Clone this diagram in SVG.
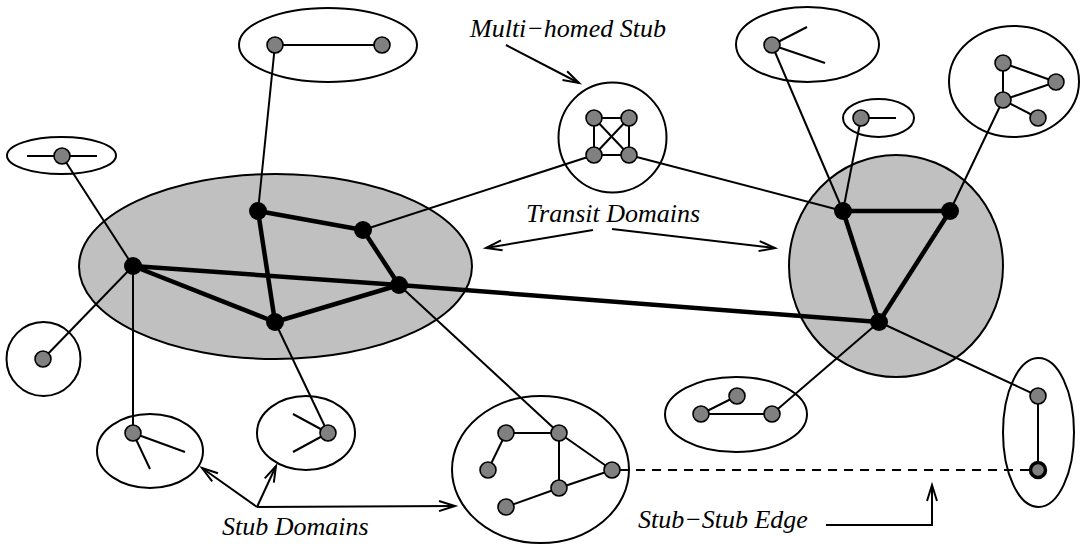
<svg xmlns="http://www.w3.org/2000/svg" width="1083" height="545" viewBox="0 0 1083 545">
<style>
.dom{fill:none;stroke:#000;stroke-width:2}
.tdom{fill:#c0c0c0;stroke:#000;stroke-width:2}
.e{stroke:#000;stroke-width:2;fill:none}
.t{stroke:#000;stroke-width:4.5;fill:none}
.d{stroke:#000;stroke-width:2;stroke-dasharray:9,7;fill:none}
.a{stroke:#000;stroke-width:2;fill:none;marker-end:url(#ah)}
.s{fill:#808080;stroke:#000;stroke-width:1.6}
.sb{fill:#808080;stroke:#000;stroke-width:3.5}
.r{fill:#000}
text{font-family:"Liberation Serif","Times New Roman",serif;font-style:italic;font-size:26px;fill:#000}
</style>
<defs>
<marker id="ah" markerUnits="userSpaceOnUse" markerWidth="20" markerHeight="14" viewBox="-18 -7 20 14" refX="0" refY="0" orient="auto" overflow="visible">
<path d="M-16,-5 L0,0 L-16,5" fill="none" stroke="#000" stroke-width="2"/>
</marker>
</defs>
<g id="domains">
<g id="stub-top"><ellipse class="dom" cx="328" cy="45" rx="89" ry="37"/></g>
<g id="stub-left-small"><ellipse class="dom" cx="61.5" cy="155.5" rx="54.5" ry="18.5"/></g>
<g id="transit-left"><ellipse class="tdom" cx="275.5" cy="266.5" rx="196.5" ry="92.5"/></g>
<g id="stub-left-circle"><ellipse class="dom" cx="43.5" cy="359" rx="37" ry="37"/></g>
<g id="stub-bottom-left"><ellipse class="dom" cx="150" cy="451" rx="53" ry="37"/></g>
<g id="stub-bottom-mid"><ellipse class="dom" cx="306" cy="433" rx="49" ry="37"/></g>
<g id="stub-multihomed"><ellipse class="dom" cx="612.5" cy="137.5" rx="54" ry="55"/></g>
<g id="stub-top-right1"><ellipse class="dom" cx="807.5" cy="44.5" rx="71.5" ry="37.5"/></g>
<g id="stub-top-right-small"><ellipse class="dom" cx="878.5" cy="118" rx="35.5" ry="19"/></g>
<g id="stub-top-right2"><ellipse class="dom" cx="1014" cy="81.5" rx="65" ry="55.5"/></g>
<g id="transit-right"><ellipse class="tdom" cx="896" cy="266" rx="107" ry="111"/></g>
<g id="stub-big"><ellipse class="dom" cx="540.5" cy="469.5" rx="88.5" ry="73.5"/></g>
<g id="stub-bottom-right"><ellipse class="dom" cx="736" cy="414.5" rx="71" ry="37.5"/></g>
<g id="stub-vertical"><ellipse class="dom" cx="1038.5" cy="432.5" rx="35.5" ry="74.5"/></g>
</g>
<g id="connectors">
<line class="e" x1="275" y1="45" x2="382" y2="45"/>
<line class="e" x1="27" y1="156" x2="97" y2="156"/>
<line class="e" x1="62" y1="156" x2="133" y2="266"/>
<line class="e" x1="275" y1="45" x2="258" y2="211"/>
<line class="e" x1="43" y1="359" x2="133" y2="266"/>
<line class="e" x1="133" y1="266" x2="133" y2="433"/>
<line class="e" x1="133" y1="433" x2="185" y2="452"/>
<line class="e" x1="133" y1="433" x2="150" y2="469"/>
<line class="e" x1="328" y1="433" x2="293" y2="414"/>
<line class="e" x1="328" y1="433" x2="293" y2="452"/>
<line class="e" x1="328" y1="433" x2="275" y2="322"/>
<line class="e" x1="594" y1="118" x2="629" y2="118"/>
<line class="e" x1="594" y1="155" x2="629" y2="155"/>
<line class="e" x1="594" y1="118" x2="594" y2="155"/>
<line class="e" x1="629" y1="118" x2="629" y2="155"/>
<line class="e" x1="594" y1="118" x2="629" y2="155"/>
<line class="e" x1="629" y1="118" x2="594" y2="155"/>
<line class="e" x1="594" y1="155" x2="363" y2="230"/>
<line class="e" x1="629" y1="155" x2="843" y2="211"/>
<line class="e" x1="772" y1="45" x2="807" y2="27"/>
<line class="e" x1="772" y1="45" x2="825" y2="63"/>
<line class="e" x1="772" y1="45" x2="843" y2="211"/>
<line class="e" x1="861" y1="118" x2="896" y2="118"/>
<line class="e" x1="861" y1="118" x2="843" y2="211"/>
<line class="e" x1="1003" y1="63" x2="1056" y2="82"/>
<line class="e" x1="1003" y1="63" x2="1003" y2="100"/>
<line class="e" x1="1003" y1="100" x2="1056" y2="82"/>
<line class="e" x1="1003" y1="100" x2="1038" y2="118"/>
<line class="e" x1="1003" y1="100" x2="950" y2="211"/>
<line class="e" x1="399" y1="285" x2="559" y2="433"/>
<line class="e" x1="506" y1="433" x2="559" y2="433"/>
<line class="e" x1="506" y1="433" x2="488" y2="470"/>
<line class="e" x1="559" y1="433" x2="612" y2="470"/>
<line class="e" x1="559" y1="433" x2="559" y2="488"/>
<line class="e" x1="559" y1="488" x2="612" y2="470"/>
<line class="e" x1="559" y1="488" x2="506" y2="507"/>
<line class="e" x1="701" y1="414" x2="737" y2="396"/>
<line class="e" x1="701" y1="414" x2="772" y2="414"/>
<line class="e" x1="772" y1="414" x2="879" y2="322"/>
<line class="e" x1="879" y1="322" x2="1038" y2="396"/>
<line class="e" x1="1038" y1="396" x2="1038" y2="470"/>
<line class="d" x1="620" y1="470" x2="1038" y2="470"/>
<line class="t" x1="258" y1="211" x2="363" y2="230"/>
<line class="t" x1="363" y1="230" x2="399" y2="285"/>
<line class="t" x1="258" y1="211" x2="275" y2="322"/>
<line class="t" x1="133" y1="266" x2="275" y2="322"/>
<line class="t" x1="275" y1="322" x2="399" y2="285"/>
<line class="t" x1="133" y1="266" x2="399" y2="285"/>
<line class="t" x1="399" y1="285" x2="879" y2="322"/>
<line class="t" x1="843" y1="211" x2="950" y2="211"/>
<line class="t" x1="843" y1="211" x2="879" y2="322"/>
<line class="t" x1="950" y1="211" x2="879" y2="322"/>
</g>
<g id="nodes">
<g id="n1"><circle class="s" cx="275" cy="45" r="8"/></g>
<g id="n2"><circle class="s" cx="382" cy="45" r="8"/></g>
<g id="n3"><circle class="s" cx="62" cy="156" r="8"/></g>
<g id="n4"><circle class="s" cx="43" cy="359" r="8"/></g>
<g id="n5"><circle class="s" cx="133" cy="433" r="8"/></g>
<g id="n6"><circle class="s" cx="328" cy="433" r="8"/></g>
<g id="m1"><circle class="s" cx="594" cy="118" r="8"/></g>
<g id="m2"><circle class="s" cx="629" cy="118" r="8"/></g>
<g id="m3"><circle class="s" cx="594" cy="155" r="8"/></g>
<g id="m4"><circle class="s" cx="629" cy="155" r="8"/></g>
<g id="n7"><circle class="s" cx="772" cy="45" r="8"/></g>
<g id="n8"><circle class="s" cx="861" cy="118" r="8"/></g>
<g id="r1"><circle class="s" cx="1003" cy="63" r="8"/></g>
<g id="r2"><circle class="s" cx="1056" cy="82" r="8"/></g>
<g id="r3"><circle class="s" cx="1003" cy="100" r="8"/></g>
<g id="r4"><circle class="s" cx="1038" cy="118" r="8"/></g>
<g id="sA"><circle class="s" cx="506" cy="433" r="8"/></g>
<g id="sB"><circle class="s" cx="559" cy="433" r="8"/></g>
<g id="sC"><circle class="s" cx="488" cy="470" r="8"/></g>
<g id="sD"><circle class="s" cx="612" cy="470" r="8"/></g>
<g id="sE"><circle class="s" cx="559" cy="488" r="8"/></g>
<g id="sF"><circle class="s" cx="506" cy="507" r="8"/></g>
<g id="br1"><circle class="s" cx="701" cy="414" r="8"/></g>
<g id="br2"><circle class="s" cx="737" cy="396" r="8"/></g>
<g id="br3"><circle class="s" cx="772" cy="414" r="8"/></g>
<g id="v1"><circle class="s" cx="1038" cy="396" r="8"/></g>
<g id="v2"><circle class="sb" cx="1038" cy="470" r="7.5"/></g>
<g id="T1"><circle class="r" cx="133" cy="266" r="9"/></g>
<g id="T2"><circle class="r" cx="258" cy="211" r="9"/></g>
<g id="T3"><circle class="r" cx="363" cy="230" r="9"/></g>
<g id="T4"><circle class="r" cx="399" cy="285" r="9"/></g>
<g id="T5"><circle class="r" cx="275" cy="322" r="9"/></g>
<g id="T6"><circle class="r" cx="843" cy="211" r="9"/></g>
<g id="T7"><circle class="r" cx="950" cy="211" r="9"/></g>
<g id="T8"><circle class="r" cx="879" cy="322" r="9"/></g>
</g>
<g id="annotations">
<line class="a" x1="506" y1="45" x2="579" y2="83"/>
<line class="a" x1="593" y1="230" x2="486" y2="248"/>
<line class="a" x1="612" y1="229" x2="775" y2="248"/>
<line class="a" x1="257" y1="507" x2="202" y2="468"/>
<line class="a" x1="257" y1="507" x2="276" y2="466"/>
<line class="a" x1="257" y1="507" x2="455" y2="506"/>
<polyline class="a" points="826,525 932,525 932,485"/>
<text x="470" y="37">Multi−homed Stub</text>
<text x="526" y="222">Transit Domains</text>
<text x="222" y="535">Stub Domains</text>
<text x="638" y="528">Stub−Stub Edge</text>
</g>
</svg>
